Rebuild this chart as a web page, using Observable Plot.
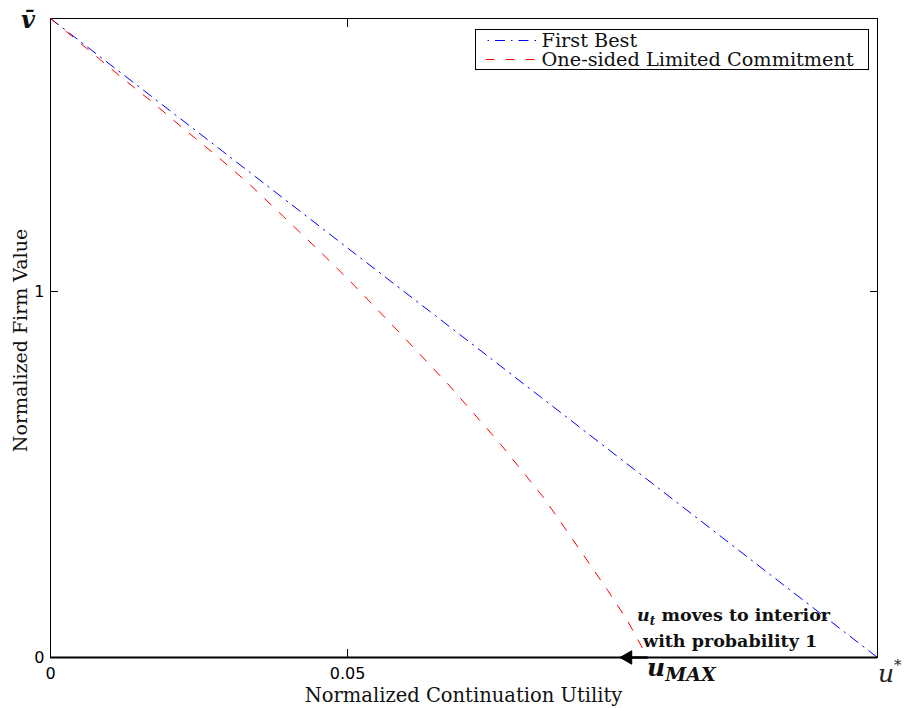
<!DOCTYPE html>
<html>
<head>
<meta charset="utf-8">
<script src="https://cdn.jsdelivr.net/npm/d3@7"></script>
<script src="https://cdn.jsdelivr.net/npm/@observablehq/plot@0.6"></script>
<style>
  body { margin: 0; background: #fff; }
  #chart { width: 904px; height: 708px; }
</style>
</head>
<body>
<div id="chart"></div>
<script>
// ---- data ----
const seriesNames = ["First Best", "One-sided Limited Commitment"];
const uStar = 0.1392;   // right end of the x axis (u*)
const vBar = 1.746;     // top of the y axis (v̄)
const uMax = 0.1005;    // where the limited-commitment curve hits zero
const arrowTipU = 0.0960;

const firstBestU = [0, 0.025, 0.05, 0.075, 0.1, 0.125, 0.1392];
const firstBestV = [1.746, 1.433, 1.119, 0.806, 0.492, 0.178, 0];

const limitedU = [0, 0.0067, 0.0118, 0.0168, 0.0224, 0.0281, 0.0337, 0.0392, 0.0450, 0.0505, 0.0589, 0.0673, 0.0758, 0.0830, 0.0892, 0.0938, 0.0971, 0.1005];
const limitedV = [1.746, 1.656, 1.587, 1.522, 1.445, 1.369, 1.290, 1.205, 1.115, 1.027, 0.885, 0.740, 0.582, 0.437, 0.292, 0.183, 0.101, 0];

const xTickValues = [0, 0.05];
const xTickLabels = ["0", "0.05"];
const yTickValues = [0, 1];
const yTickLabels = ["0", "1"];
const xTitle = "Normalized Continuation Utility";
const yTitle = "Normalized Firm Value";

(function () {
const fb = firstBestU.map((u, i) => ({u, v: firstBestV[i]}));
const lc = limitedU.map((u, i) => ({u, v: limitedV[i]}));

const SERIF = "DejaVu Serif";
const SANS = "DejaVu Sans";
const blueDash = "10,6,1.5,6";
const redDash = "9,11";

const chart = Plot.plot({
  width: 904,
  height: 708,
  marginLeft: 50,
  marginRight: 27,
  marginTop: 18,
  marginBottom: 51,
  style: {background: "#fff", overflow: "visible"},
  x: {domain: [0, uStar], label: null},
  y: {domain: [0, vBar], label: null},
  marks: [
    Plot.frame({stroke: "black", strokeWidth: 1}),
    // inward tick marks on all four sides
    Plot.axisX({anchor: "bottom", ticks: [0.05], tickSize: 8, dy: -8, tickFormat: () => "", label: null, strokeWidth: 1}),
    Plot.axisX({anchor: "top", ticks: [0.05], tickSize: 8, dy: 8, tickFormat: () => "", label: null, strokeWidth: 1}),
    Plot.axisY({anchor: "left", ticks: [1], tickSize: 8, dx: 8, tickFormat: () => "", label: null, strokeWidth: 1}),
    Plot.axisY({anchor: "right", ticks: [1], tickSize: 8, dx: -8, tickFormat: () => "", label: null, strokeWidth: 1}),
    // tick labels
    Plot.text(xTickValues, {x: d => d, frameAnchor: "bottom", dy: 10, lineAnchor: "top",
      text: d => xTickLabels[xTickValues.indexOf(d)], fontSize: 16, fontFamily: SANS, fill: "black"}),
    Plot.text(yTickValues, {y: d => d, frameAnchor: "left", dx: -6, textAnchor: "end", lineAnchor: "middle",
      text: d => yTickLabels[yTickValues.indexOf(d)], fontSize: 16, fontFamily: SANS, fill: "black"}),
    // series
    Plot.line(fb, {x: "u", y: "v", stroke: "#0000ff", strokeWidth: 1, strokeDasharray: blueDash}),
    Plot.line(lc, {x: "u", y: "v", stroke: "#ff0000", strokeWidth: 1, strokeDasharray: redDash}),
    Plot.ruleY([0], {stroke: "black", strokeWidth: 2}),
    // arrow from u_MAX toward the interior
    Plot.link([{x1: uMax, x2: arrowTipU}], {x1: "x1", x2: "x2", y1: () => 0, y2: () => 0,
      stroke: "black", strokeWidth: 2.4}),
    Plot.dot([arrowTipU], {x: d => d, y: () => 0, symbol: "triangle", r: 5, rotate: -90,
      fill: "black", stroke: "black", strokeWidth: 1, dx: 7})
  ]
});

document.getElementById("chart").appendChild(chart);

const svg = d3.select(chart);
// make sure the tick-label text marks render at the intended size
svg.selectAll('g[aria-label="text"] text')
  .style("font-size", "16px").style("font-family", SANS);

const sx = chart.scale("x"), sy = chart.scale("y");
const X = v => sx.apply(v), Y = v => sy.apply(v);
const pLeft = X(0), pRight = X(uStar), pTop = Y(vBar), pBottom = Y(0);

// axis titles
svg.append("text")
  .attr("x", (pLeft + pRight) / 2).attr("y", pBottom + 45)
  .attr("text-anchor", "middle")
  .attr("font-family", SERIF).attr("font-size", 19.5).attr("fill", "#111")
  .text(xTitle);
svg.append("text")
  .attr("transform", `translate(${pLeft - 23},${(pTop + pBottom) / 2 + 3}) rotate(-90)`)
  .attr("text-anchor", "middle")
  .attr("font-family", SERIF).attr("font-size", 19).attr("fill", "#111")
  .text(yTitle);

// v̄ label at top of y axis
svg.append("text")
  .attr("x", pLeft - 22).attr("y", pTop + 10)
  .attr("text-anchor", "middle")
  .attr("font-family", SERIF).attr("font-size", 24).attr("font-style", "italic").attr("font-weight", "bold")
  .attr("fill", "#111")
  .text("v\u0304");

// u* label at right end of x axis
const us = svg.append("text")
  .attr("x", pRight + 1).attr("y", pBottom + 25)
  .attr("text-anchor", "start")
  .attr("font-family", SERIF).attr("font-size", 25).attr("font-style", "italic").attr("fill", "#222");
us.append("tspan").text("u");
us.append("tspan").attr("dy", -12).attr("font-size", 15).attr("font-style", "normal").text("*");

// u_MAX label
const um = svg.append("text")
  .attr("x", X(uMax)).attr("y", pBottom + 19)
  .attr("text-anchor", "start")
  .attr("font-family", SERIF).attr("font-size", 25).attr("font-style", "italic").attr("font-weight", "bold")
  .attr("fill", "#111");
um.append("tspan").text("u");
um.append("tspan").attr("dy", 5).attr("font-size", 19).text("MAX");

// annotation
const a1 = svg.append("text")
  .attr("x", X(uMax) - 10).attr("y", pBottom - 36)
  .attr("text-anchor", "start")
  .attr("font-family", SERIF).attr("font-size", 17.5).attr("font-weight", "bold").attr("fill", "#111");
a1.append("tspan").attr("font-style", "italic").text("u");
a1.append("tspan").attr("font-style", "italic").attr("font-size", 12).attr("dy", 4).text("t");
a1.append("tspan").attr("dy", -4).text(" moves to interior");
svg.append("text")
  .attr("x", X(uMax) - 4).attr("y", pBottom - 10)
  .attr("text-anchor", "start")
  .attr("font-family", SERIF).attr("font-size", 17.5).attr("font-weight", "bold").attr("fill", "#111")
  .text("with probability 1");

// legend box (upper right, inside the axes)
const lg = svg.append("g");
const lx = 475.5, ly = 29.5, lw = 393, lh = 40;
lg.append("rect").attr("x", lx).attr("y", ly).attr("width", lw).attr("height", lh)
  .attr("fill", "white").attr("stroke", "black").attr("stroke-width", 1);
const legendStyles = [
  {stroke: "#0000ff", dash: blueDash, offset: 14},
  {stroke: "#ff0000", dash: redDash, offset: 0}
];
seriesNames.forEach((name, i) => {
  const yy = ly + 11 + i * 19;
  lg.append("line").attr("x1", lx + 10).attr("x2", lx + 62).attr("y1", yy).attr("y2", yy)
    .attr("stroke", legendStyles[i].stroke).attr("stroke-width", 1)
    .attr("stroke-dasharray", legendStyles[i].dash).attr("stroke-dashoffset", legendStyles[i].offset);
  lg.append("text").attr("x", lx + 66).attr("y", yy + 6.5)
    .attr("text-anchor", "start")
    .attr("font-family", SERIF).attr("font-size", 19.3).attr("fill", "#111")
    .text(name);
});
})();
</script>
</body>
</html>
